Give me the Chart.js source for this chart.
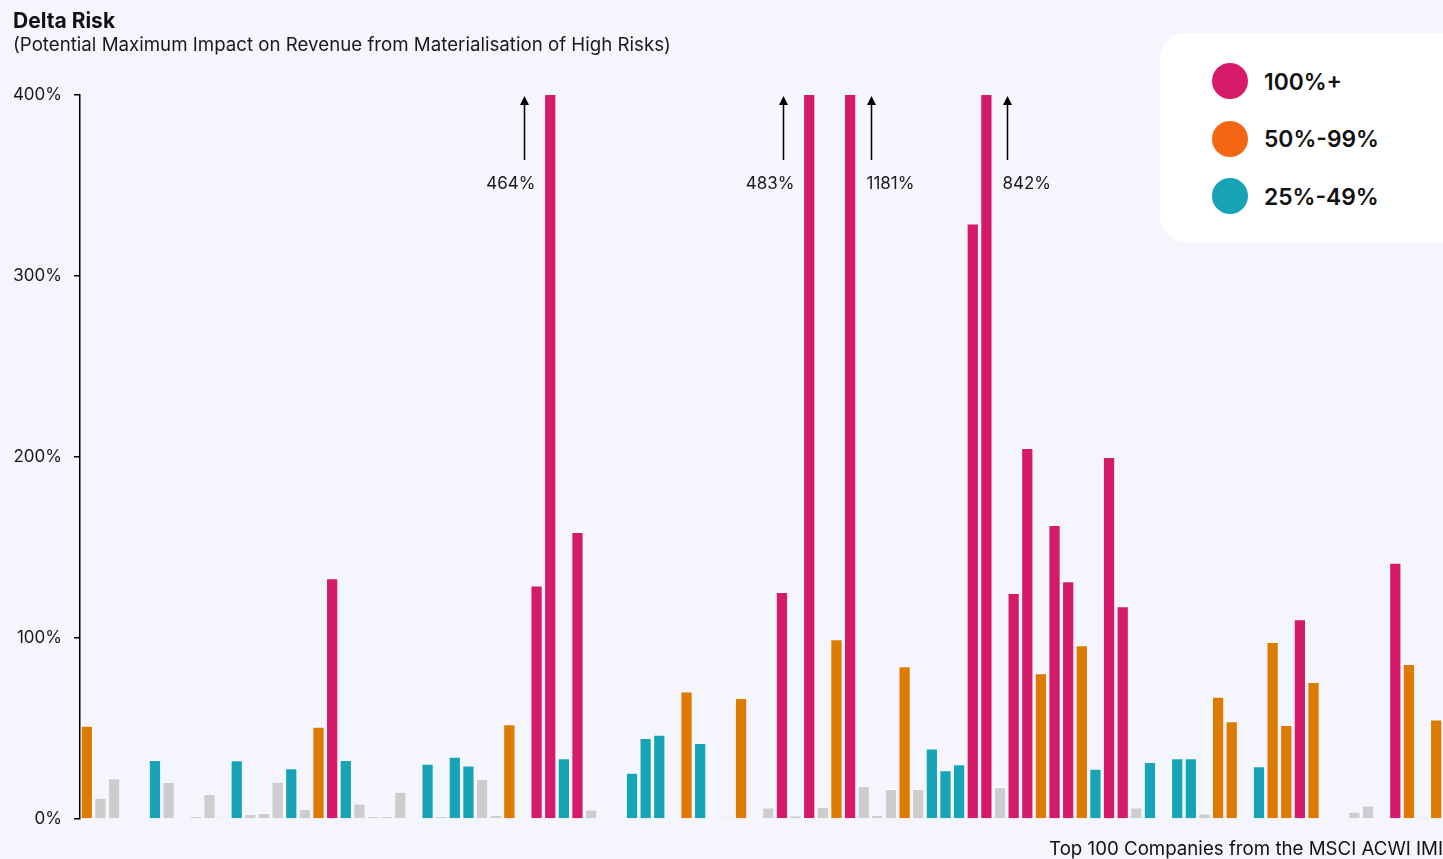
<!DOCTYPE html>
<html>
<head>
<meta charset="utf-8">
<script src="https://cdn.jsdelivr.net/npm/chart.js@4.4.1/dist/chart.umd.min.js"></script>
<style>
  html, body { margin: 0; padding: 0; background: #F4F5FD; }
  #wrap { position: relative; width: 1443px; height: 859px; overflow: hidden; background: #F4F5FD; font-family: Inter, "Noto Sans", sans-serif; }
  #title { position: absolute; left: 13px; top: 8px; font-size: 21px; line-height: 26px; font-weight: 700; color: #111; }
  #subtitle { position: absolute; left: 13px; top: 34px; font-size: 18.7px; line-height: 22px; color: #1a1a1a; }
  #legend { position: absolute; left: 1160px; top: 33px; width: 320px; height: 209px; background: #fff; border-radius: 26px; }
  .li { position: absolute; left: 52px; height: 40px; display: flex; align-items: center; font-size: 22.8px; font-weight: 600; color: #111; }
  .dot { width: 36px; height: 36px; border-radius: 50%; margin-right: 16px; }
  canvas { position: absolute; left: 0; top: 0; }
</style>
</head>
<body>
<div id="wrap">
  <canvas id="c" width="1443" height="859"></canvas>
  <div id="title">Delta Risk</div>
  <div id="subtitle">(Potential Maximum Impact on Revenue from Materialisation of High Risks)</div>
  <div id="legend"></div>
</div>
<script>
// ---- data ----
const companies = Array.from({length: 100}, (_, i) => 'Company ' + (i + 1));
const deltaRisk = [
  51.5, 11.8, 22.5, 0.5, 0.5, 32.6, 20.4, 0.5, 1.7, 13.8,
  1.0, 32.4, 2.8, 3.3, 20.6, 28.0, 5.5, 51.0, 133.0, 32.6,
  8.5, 1.7, 1.7, 15.0, 0.5, 30.5, 1.7, 34.4, 29.6, 22.1,
  2.2, 52.3, 0.5, 129.0, 464.0, 33.5, 158.6, 5.2, 0.7, 0.5,
  25.5, 44.8, 46.6, 0.7, 70.5, 42.0, 0.5, 1.1, 66.9, 0.5,
  6.4, 125.4, 2.0, 483.0, 6.6, 99.3, 1181.0, 18.2, 2.2, 16.6,
  84.4, 16.6, 39.0, 27.0, 30.2, 329.0, 842.0, 17.5, 124.9, 205.0,
  80.5, 162.4, 131.3, 96.0, 27.8, 200.0, 117.5, 6.4, 31.5, 0.7,
  33.5, 33.5, 3.1, 67.6, 54.0, 0.5, 29.1, 97.8, 51.9, 110.3,
  75.7, 0.5, 0.5, 4.0, 7.5, 0.5, 141.6, 85.6, 1.1, 55.0
];
const yTicks = [0, 100, 200, 300, 400];
const legendLabels = ['100%+', '50%-99%', '25%-49%'];
const legendColors = ['#D61B6A', '#F56614', '#17A3B5'];
const bandThresholds = [100, 50, 25];
const bandColors = ['#D61A6A', '#DC7B00', '#17A4B6'];
const otherColor = '#CDCDCD';
// bars beyond the axis maximum, annotated with their true value
const overflowIdx = [34, 53, 56, 66];
const overflowSide = ['left', 'left', 'right', 'right'];
const xAxisTitle = 'Top 100 Companies from the MSCI ACWI IMI';

// ---- legend ----
const lg = document.getElementById('legend');
legendLabels.forEach((t, i) => {
  const d = document.createElement('div');
  d.className = 'li';
  d.style.top = (28 + i * 57.5) + 'px';
  d.innerHTML = '<span class="dot" style="background:' + legendColors[i] + '"></span><span>' + t + '</span>';
  lg.appendChild(d);
});

function colorFor(v) {
  for (let k = 0; k < bandThresholds.length; k++) if (v >= bandThresholds[k]) return bandColors[k];
  return otherColor;
}

const overflowPlugin = {
  id: 'overflow',
  afterDatasetsDraw(chart) {
    const ctx = chart.ctx, xs = chart.scales.x, top = chart.chartArea.top;
    ctx.save();
    overflowIdx.forEach((idx, k) => {
      const cx = xs.getPixelForValue(idx);
      const left = overflowSide[k] === 'left';
      const ax = Math.round(left ? cx - 26.5 : cx + 21) + 0.5;
      ctx.strokeStyle = '#000'; ctx.fillStyle = '#000'; ctx.lineWidth = 1.5;
      ctx.beginPath(); ctx.moveTo(ax, top + 65); ctx.lineTo(ax, top + 8); ctx.stroke();
      ctx.beginPath(); ctx.moveTo(ax, top + 1); ctx.lineTo(ax - 4.5, top + 10); ctx.lineTo(ax + 4.5, top + 10); ctx.closePath(); ctx.fill();
      ctx.font = '17px Inter';
      ctx.fillStyle = '#1a1a1a';
      ctx.textBaseline = 'middle';
      const label = Math.round(deltaRisk[idx]) + '%';
      if (left) { ctx.textAlign = 'right'; ctx.fillText(label, ax + 11, top + 89); }
      else { ctx.textAlign = 'left'; ctx.fillText(label, ax - 5, top + 89); }
    });
    ctx.restore();
  }
};

Chart.defaults.font.family = 'Inter';
new Chart(document.getElementById('c'), {
  type: 'bar',
  data: {
    labels: companies,
    datasets: [{
      data: deltaRisk,
      backgroundColor: deltaRisk.map(colorFor),
      borderColor: 'rgba(255,255,255,0.45)',
      borderWidth: 1,
      categoryPercentage: 1.0,
      barPercentage: 0.9
    }]
  },
  options: {
    responsive: false,
    animation: false,
    events: [],
    layout: { padding: { top: 95, left: 0, right: 0, bottom: 0 } },
    plugins: { legend: { display: false }, tooltip: { enabled: false } },
    scales: {
      x: {
        grid: { display: false, drawTicks: false },
        border: { display: false },
        ticks: { display: false },
        title: { display: true, text: xAxisTitle, align: 'end', color: '#111', font: { size: 18.7, lineHeight: 1 }, padding: { top: 21.3, bottom: 0 } }
      },
      y: {
        min: yTicks[0], max: yTicks[yTicks.length - 1],
        afterFit(s) { s.width = 80; },
        afterBuildTicks(s) { s.ticks = yTicks.map(v => ({ value: v })); },
        grid: { display: true, drawOnChartArea: false, drawTicks: true, tickLength: 6, color: '#000', lineWidth: 1.5 },
        border: { display: true, color: '#000', width: 1.5 },
        ticks: { padding: 12, color: '#1a1a1a', font: { size: 17 }, callback: v => v + '%' }
      }
    }
  },
  plugins: [overflowPlugin]
});
</script>
</body>
</html>
